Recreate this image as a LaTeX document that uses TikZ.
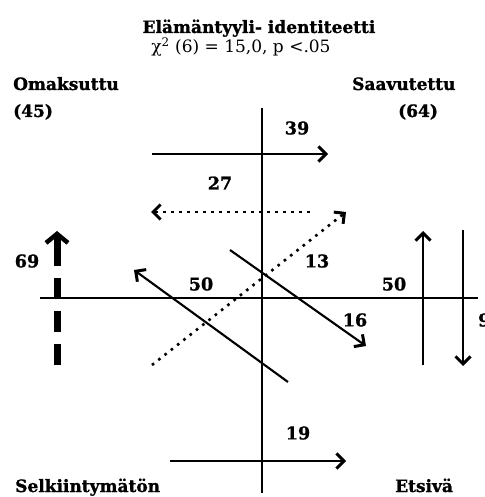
\documentclass[tikz,border=0pt]{standalone}
\usepackage{fontspec}
\setmainfont{DejaVu Serif}[BoldFeatures={FakeBold=1.2}]
\usetikzlibrary{arrows.meta}
\begin{document}
\begin{tikzpicture}[x=1pt,y=-1pt,
  lbl/.style={font=\fontsize{17}{20}\selectfont\bfseries, inner sep=0pt},
  num/.style={font=\fontsize{17.5}{20}\selectfont\bfseries, inner sep=0pt},
  sub/.style={font=\fontsize{17}{20}\selectfont, inner sep=0pt},
  axis/.style={line width=1.9pt},
  arr/.style={line width=2.1pt, -{Straight Barb[length=7.5pt,width=15pt,line width=3pt]}},
  dotarr/.style={line width=2.6pt, dash pattern=on 2.6pt off 5.4pt, -{Straight Barb[length=7.5pt,width=15pt,line width=3pt]}},
  thickdash/.style={line width=7pt, dash pattern=on 21pt off 12pt},
  thickarr/.style={line width=7pt, -{Straight Barb[length=9pt,width=22pt,line width=4.5pt]}},
]
\useasboundingbox (0,0) rectangle (484,497);
% titles
\node[lbl, anchor=base] (title) at (259,33) {Elämäntyyli- identiteetti};
\node[sub, anchor=base] (stat) at (241,53) {χ\textsuperscript{2} (6) = 15,0, p <.05};
% corner labels
\node[lbl, anchor=base west] (om) at (13,90) {Omaksuttu};
\node[lbl, anchor=base west] (om45) at (13,117) {(45)};
\node[lbl, anchor=base west] (sa) at (352,90) {Saavutettu};
\node[lbl, anchor=base west] (sa64) at (398,117) {(64)};
\node[lbl, anchor=base west] (se) at (15,492) {Selkiintymätön};
\node[lbl, anchor=base west] (et) at (395,492) {Etsivä};
% axes
\coordinate (vT) at (262,108);
\coordinate (vB) at (262,493);
\coordinate (hL) at (40,298);
\coordinate (hR) at (478,298);
\draw[axis] (vT) -- (vB);
\draw[axis] (hL) -- (hR);
% arrows
\coordinate (a39s) at (152,154); \coordinate (a39e) at (328,154);
\draw[arr] (a39s) -- (a39e);
\coordinate (a27s) at (310,212); \coordinate (a27e) at (151,212);
\draw[dotarr] (a27s) -- (a27e);
\coordinate (a13s) at (152,365); \coordinate (a13e) at (346,212);
\draw[dotarr] (a13s) -- (a13e);
\coordinate (a50s) at (288,382); \coordinate (a50e) at (134,270);
\draw[arr] (a50s) -- (a50e);
\coordinate (a16s) at (230,250); \coordinate (a16e) at (366,346);
\draw[arr] (a16s) -- (a16e);
\coordinate (aUs) at (423,365); \coordinate (aUe) at (423,231);
\draw[arr] (aUs) -- (aUe);
\coordinate (aDs) at (463,230); \coordinate (aDe) at (463,366);
\draw[arr] (aDs) -- (aDe);
\coordinate (a19s) at (170,461); \coordinate (a19e) at (346,461);
\draw[arr] (a19s) -- (a19e);
% thick dashed arrow
\coordinate (a69s) at (57,365); \coordinate (a69m) at (57,278);
\coordinate (a69n) at (57,266); \coordinate (a69e) at (57,231);
\draw[thickdash] (a69s) -- (a69m);
\draw[thickarr] (a69n) -- (a69e);
% numbers
\node[num] (n39) at (297,128) {39};
\node[num] (n27) at (220,183) {27};
\node[num] (n13) at (317,261) {13};
\node[num] (n50a) at (201,284) {50};
\node[num] (n50b) at (394,284) {50};
\node[num] (n16) at (355,320) {16};
\node[num] (n69) at (27,261) {69};
\node[num] (n19) at (298,433) {19};
\node[num, anchor=west] (n9) at (478,320) {9};
\end{tikzpicture}
\end{document}
